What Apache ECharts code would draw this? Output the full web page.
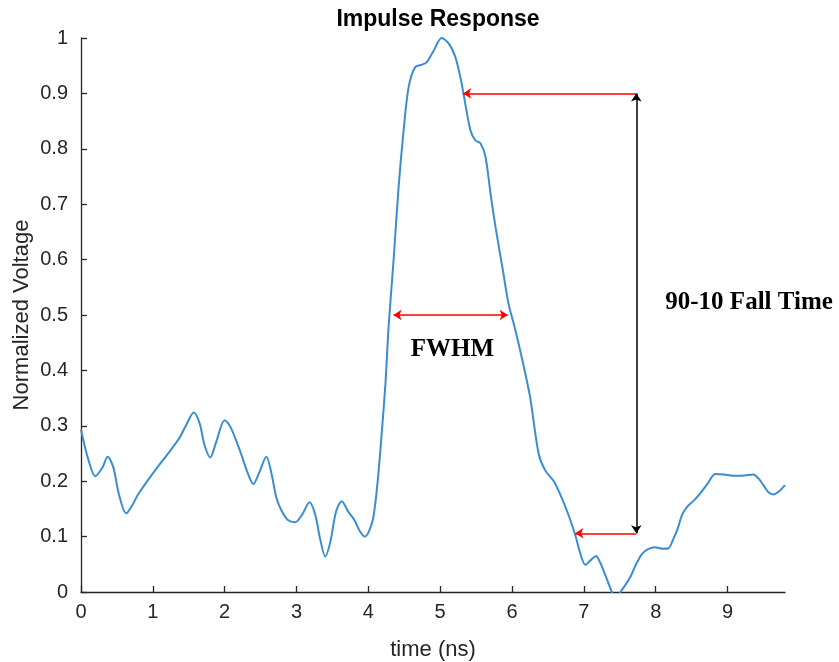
<!DOCTYPE html>
<html>
<head>
<meta charset="utf-8">
<script src="https://cdn.jsdelivr.net/npm/echarts@6/dist/echarts.min.js"></script>
<style>html,body{margin:0;padding:0;background:#fff}#c{width:839px;height:662px}</style>
</head>
<body>
<div id="c"></div>
<script>
const times = [0.00,0.10,0.20,0.30,0.37,0.45,0.53,0.63,0.72,0.79,1.00,1.20,1.37,1.47,1.57,1.65,1.72,1.80,1.88,2.00,2.08,2.21,2.32,2.40,2.48,2.58,2.65,2.72,2.79,2.88,2.98,3.08,3.18,3.26,3.33,3.40,3.47,3.55,3.63,3.72,3.81,3.88,3.95,4.01,4.07,4.13,4.19,4.24,4.28,4.35,4.42,4.49,4.56,4.65,4.75,4.81,4.91,5.02,5.12,5.21,5.28,5.32,5.42,5.49,5.56,5.63,5.70,5.77,5.88,5.95,6.04,6.15,6.25,6.37,6.46,6.60,6.76,6.88,6.95,7.02,7.10,7.17,7.22,7.27,7.33,7.39,7.45,7.51,7.58,7.65,7.72,7.81,7.90,7.99,8.10,8.18,8.24,8.30,8.37,8.44,8.53,8.62,8.72,8.83,8.95,9.08,9.20,9.36,9.43,9.50,9.57,9.64,9.72,9.80];
const voltages = [0.293,0.240,0.209,0.225,0.244,0.225,0.175,0.142,0.158,0.175,0.214,0.248,0.278,0.303,0.324,0.305,0.265,0.243,0.270,0.310,0.298,0.256,0.215,0.195,0.215,0.244,0.215,0.170,0.147,0.130,0.126,0.140,0.162,0.140,0.095,0.064,0.090,0.145,0.164,0.145,0.129,0.110,0.100,0.110,0.135,0.200,0.293,0.380,0.475,0.597,0.729,0.832,0.911,0.947,0.952,0.956,0.977,1.000,0.990,0.966,0.930,0.903,0.834,0.815,0.810,0.786,0.720,0.659,0.575,0.521,0.476,0.415,0.353,0.250,0.220,0.196,0.148,0.103,0.070,0.049,0.058,0.065,0.055,0.040,0.020,0.000,-0.012,0.000,0.013,0.028,0.048,0.069,0.078,0.081,0.078,0.079,0.094,0.112,0.140,0.154,0.165,0.178,0.195,0.213,0.212,0.210,0.210,0.212,0.205,0.193,0.180,0.176,0.182,0.193];
const xTicks = [0,1,2,3,4,5,6,7,8,9];
const yTicks = [0,0.1,0.2,0.3,0.4,0.5,0.6,0.7,0.8,0.9,1];
// annotation values (data space)
const fallX = 7.73, fallTop = 0.9, fallBottom = 0.106, fallTopCross = 5.32, fallBottomCross = 6.88;
const fwhmY = 0.5, fwhmLeft = 4.35, fwhmRight = 5.94;
const fallLabel = {text: '90-10 Fall Time', x: 9.30, y: 0.522};
const fwhmLabel = {text: 'FWHM', x: 5.17, y: 0.437};

const chart = echarts.init(document.getElementById('c'), null, {renderer: 'canvas'});
const axisCol = '#262626';
const sans = "'Liberation Sans', Arial, sans-serif";
const serif = "'Liberation Serif', 'Times New Roman', serif";
const red = '#ff0000';
chart.setOption({
  animation: false,
  title: {
    text: 'Impulse Response', left: 433, textAlign: 'center', top: 3,
    textStyle: {fontFamily: sans, fontSize: 23, fontWeight: 'bold', color: '#000'}
  },
  grid: {left: 81, right: 54, top: 38, bottom: 70, containLabel: false, outerBoundsMode: 'none'},
  xAxis: {
    type: 'value', min: 0, max: 9.8,
    name: 'time (ns)', nameLocation: 'middle', nameGap: 47, nameMoveOverlap: false,
    nameTextStyle: {fontFamily: sans, fontSize: 22, color: axisCol},
    axisLine: {lineStyle: {color: axisCol, width: 1.3}},
    axisTick: {inside: true, length: 6, customValues: xTicks, lineStyle: {color: axisCol, width: 1.3}},
    axisLabel: {customValues: xTicks, fontFamily: sans, fontSize: 20, color: axisCol, margin: 10},
    splitLine: {show: false}
  },
  yAxis: {
    type: 'value', min: 0, max: 1, interval: 0.1,
    name: 'Normalized Voltage', nameLocation: 'middle', nameGap: 48, nameMoveOverlap: false,
    nameTextStyle: {fontFamily: sans, fontSize: 22, color: axisCol},
    axisLine: {show: true, lineStyle: {color: axisCol, width: 1.3}},
    axisTick: {show: true, inside: true, length: 6, customValues: yTicks, lineStyle: {color: axisCol, width: 1.3}},
    axisLabel: {customValues: yTicks, fontFamily: sans, fontSize: 20, color: axisCol, margin: 13},
    splitLine: {show: false}
  },
  series: [{
    type: 'line',
    data: times.map((t, i) => [t, voltages[i]]),
    showSymbol: false, symbol: 'none',
    smooth: 0.3,
    clip: true,
    lineStyle: {color: '#3a8ed0', width: 2},
    silent: true,
    markLine: {
      silent: true, animation: false,
      symbolSize: 8,
      label: {show: false},
      emphasis: {disabled: true},
      data: [
        [{coord: [fallX, fallTop], symbol: 'none', lineStyle: {color: red, width: 1.5, type: 'solid'}},
         {coord: [fallTopCross, fallTop], symbol: 'arrow'}],
        [{coord: [fallX, fallBottom], symbol: 'none', lineStyle: {color: red, width: 1.5, type: 'solid'}},
         {coord: [fallBottomCross, fallBottom], symbol: 'arrow'}],
        [{coord: [fallX, fallBottom], symbol: 'arrow', lineStyle: {color: '#000', width: 1.5, type: 'solid'}},
         {coord: [fallX, fallTop], symbol: 'arrow'}],
        [{coord: [fwhmLeft, fwhmY], symbol: 'arrow', lineStyle: {color: red, width: 1.5, type: 'solid'}},
         {coord: [fwhmRight, fwhmY], symbol: 'arrow'}]
      ]
    },
    markPoint: {
      silent: true, animation: false,
      symbol: 'circle', symbolSize: 0,
      data: [fallLabel, fwhmLabel].map(l => ({
        coord: [l.x, l.y],
        label: {show: true, position: 'inside', formatter: l.text,
          fontFamily: serif, fontSize: 25, fontWeight: 'bold', color: '#000'}
      }))
    }
  }]
});
</script>
</body>
</html>
